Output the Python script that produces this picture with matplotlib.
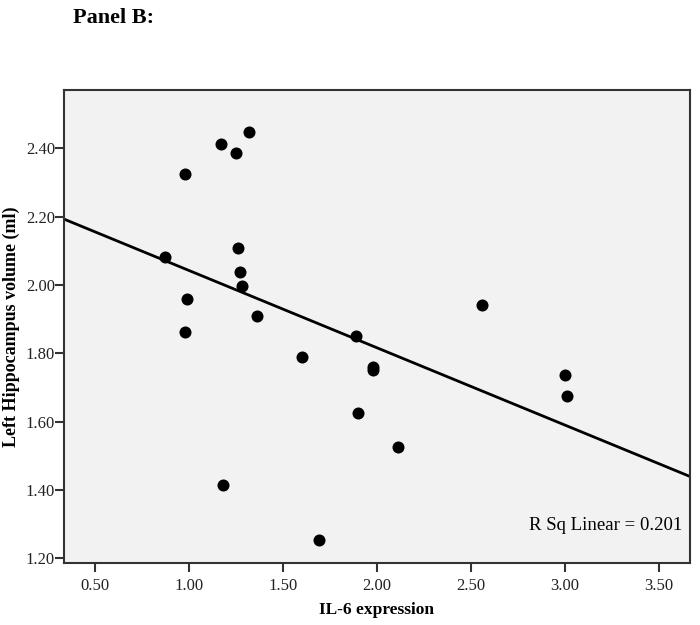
import numpy as np
import matplotlib.pyplot as plt

plt.rcParams['font.family'] = ['Liberation Serif', 'DejaVu Serif']

# IL-6 expression vs left hippocampus volume
il6 = [0.87, 0.98, 0.99, 0.98, 1.17, 1.25, 1.32, 1.26, 1.27, 1.28, 1.36, 1.60,
       1.18, 1.69, 1.89, 1.90, 1.98, 1.98, 2.11, 2.56, 3.00, 3.01]
volume = [2.082, 2.325, 1.958, 1.862, 2.413, 2.386, 2.448, 2.108, 2.038, 1.997, 1.909, 1.789,
          1.414, 1.253, 1.851, 1.625, 1.760, 1.752, 1.526, 1.942, 1.737, 1.675]
x_ticks = [0.5, 1.0, 1.5, 2.0, 2.5, 3.0, 3.5]
y_ticks = [1.2, 1.4, 1.6, 1.8, 2.0, 2.2, 2.4]
r_sq_label = 'R Sq Linear = 0.201'

fig = plt.figure(figsize=(7, 6.25), dpi=100)
ax = fig.add_axes([0.0914, 0.0992, 0.8943, 0.7568])
ax.set_facecolor('#f2f2f2')

xlim = (0.335, 3.665)
ylim = (1.186, 2.571)

# linear fit line
slope, intercept = np.polyfit(il6, volume, 1)
xs = np.array(xlim)
ax.plot(xs, intercept + slope * xs, color='black', lw=2, zorder=2)

ax.scatter(il6, volume, s=75, color='black', zorder=3, linewidths=0)

ax.set_xlim(*xlim)
ax.set_ylim(*ylim)
ax.set_xticks(x_ticks)
ax.set_xticklabels([f'{v:.2f}' for v in x_ticks])
ax.set_yticks(y_ticks)
ax.set_yticklabels([f'{v:.2f}' for v in y_ticks])
ax.tick_params(direction='out', length=6.5, width=1.5, labelsize=12, colors='#333333',
               labelcolor='#222222')
ax.tick_params(axis='x', pad=4)
ax.tick_params(axis='y', pad=0)
for s in ax.spines.values():
    s.set_linewidth(1.5)
    s.set_color('#333333')

ax.set_xlabel('IL-6 expression', fontsize=12.5, fontweight='bold', labelpad=6)
ax.set_ylabel('Left Hippocampus volume (ml)', fontsize=13, fontweight='bold', labelpad=4)

ax.text(2.81, 1.297, r_sq_label, fontsize=13.5, va='center', ha='left')

fig.text(0.104, 0.971, 'Panel B:', fontsize=16, fontweight='bold', va='center', ha='left')

fig.savefig('out.png', dpi=100)
